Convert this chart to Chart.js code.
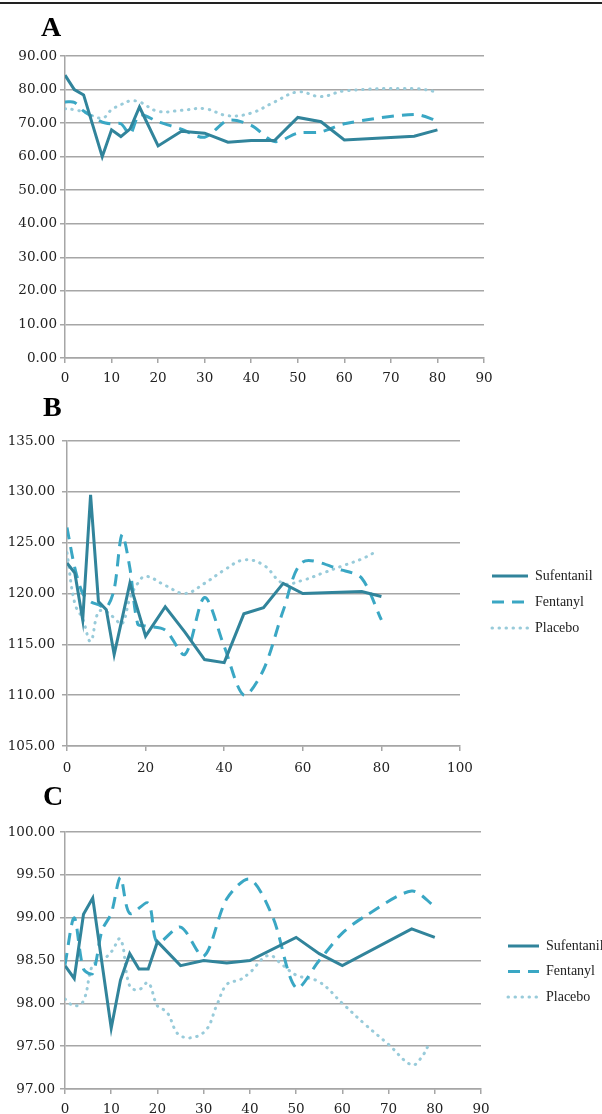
<!DOCTYPE html>
<html>
<head>
<meta charset="utf-8">
<script src="https://cdn.jsdelivr.net/npm/chart.js@4.4.1/dist/chart.umd.min.js"></script>
<style>
body{margin:0;background:#fff;width:602px;height:1114px;position:relative;overflow:hidden}
.topline{position:absolute;left:0;top:2px;width:602px;height:2px;background:#222}
.panel{position:absolute;left:0}
.tag{position:absolute;font-family:"Liberation Serif",serif;font-weight:bold;font-size:28px;line-height:28px;color:#000}
</style>
</head>
<body>
<div class="topline"></div>
<canvas id="chartA" class="panel" width="602" height="395" style="top:0"></canvas>
<canvas id="chartB" class="panel" width="602" height="390" style="top:385px"></canvas>
<canvas id="chartC" class="panel" width="602" height="339" style="top:775px"></canvas>
<div class="tag" style="left:41px;top:13px">A</div>
<div class="tag" style="left:43px;top:393px">B</div>
<div class="tag" style="left:43px;top:782px">C</div>
<script>
// --- panel A ---
var timesA = [0, 2, 4, 8, 10, 12, 14, 16, 20, 25, 30, 35, 40, 45, 50, 55, 60, 75, 80];
var sufentanilA = [84.3, 80, 78.4, 60, 68, 66, 68.3, 74.8, 63.2, 67.6, 67, 64.3, 64.8, 64.8, 71.7, 70.4, 65, 66.1, 68];
var fentanylA = [76.3, 76.2, 73.6, 70.3, 69.8, 69.8, 66.8, 72.4, 70.4, 68.2, 65.8, 70.8, 69.3, 64.5, 67, 67.4, 69.8, 72.6, 70.7];
var placeboA = [74.3, 74, 73.3, 71.5, 74, 75.5, 76.6, 76.3, 73.5, 73.8, 74.3, 72.2, 73, 76.3, 79.3, 77.9, 79.6, 80.3, 79.3];

// --- panel B ---
var timesSufB = [0, 2, 4, 6, 8, 10, 12, 16, 20, 25, 30, 35, 40, 45, 50, 55, 60, 75, 80];
var sufentanilB = [123, 122, 117.4, 129.7, 119.2, 118.4, 114, 121, 115.8, 118.7, 116.2, 113.5, 113.2, 118, 118.6, 121, 120, 120.2, 119.7];
var timesFenB = [0, 2, 4, 6, 8, 10, 12, 14, 16, 18, 20, 25, 30, 35, 40, 45, 50, 55, 60, 70, 75, 80];
var fentanylB = [126.5, 122.5, 120, 119.2, 118.9, 118.6, 120.4, 125.8, 122.5, 117, 116.8, 116.4, 114, 119.6, 114.8, 110, 112.5, 118.3, 123.1, 122.3, 121.5, 117.4];
var timesPlaB = [0, 2, 4, 6, 8, 10, 12, 14, 16, 18, 20, 25, 30, 35, 40, 45, 50, 55, 60, 65, 70, 75, 79];
var placeboB = [124, 119, 117.5, 115.3, 118.2, 118.2, 117.6, 117, 119.5, 121, 121.7, 120.8, 120, 121, 122.3, 123.3, 122.8, 121, 121.3, 122, 122.7, 123.4, 124.2];

// --- panel C ---
var timesSufC = [0, 2, 4, 6, 10, 12, 14, 16, 18, 20, 25, 30, 35, 40, 50, 55, 60, 75, 80];
var sufentanilC = [98.44, 98.29, 99.04, 99.23, 97.71, 98.27, 98.58, 98.4, 98.4, 98.72, 98.44, 98.5, 98.47, 98.5, 98.77, 98.58, 98.44, 98.87, 98.77];
var timesFenC = [0, 2, 4, 6, 8, 10, 12, 14, 18, 20, 25, 30, 35, 40, 45, 50, 55, 60, 65, 75, 80];
var fentanylC = [98.45, 99.0, 98.4, 98.35, 98.85, 99.05, 99.47, 99.05, 99.17, 98.71, 98.89, 98.55, 99.22, 99.45, 99.0, 98.18, 98.5, 98.82, 99.02, 99.31, 99.13];
var timesPlaC = [0, 2, 4, 6, 8, 10, 12, 14, 16, 18, 20, 22, 25, 30, 33, 35, 38, 40, 44, 47, 50, 55, 60, 65, 70, 75, 77, 79];
var placeboC = [98.05, 97.97, 98.03, 98.45, 98.5, 98.6, 98.75, 98.2, 98.16, 98.24, 97.97, 97.9, 97.62, 97.66, 98.0, 98.22, 98.28, 98.36, 98.56, 98.45, 98.33, 98.25, 98.0, 97.75, 97.52, 97.28, 97.36, 97.55];

var seriesNames = ['Sufentanil', 'Fentanyl', 'Placebo'];

function pts(xs, ys) {
    return xs.map(function (x, i) { return {x: x, y: ys[i]}; });
}

// styles for the three groups
function sufStyle(data) {
    return {label: seriesNames[0], data: data, borderColor: '#31849b', backgroundColor: '#31849b',
        borderWidth: 3, tension: 0, pointRadius: 0};
}
function fenStyle(data) {
    return {label: seriesNames[1], data: data, borderColor: '#3aa7c4', backgroundColor: '#3aa7c4',
        borderWidth: 3, borderDash: [12, 8], tension: 0.3, pointRadius: 0};
}
function plaStyle(data) {
    return {label: seriesNames[2], data: data, borderColor: '#98cbda', backgroundColor: '#98cbda',
        borderWidth: 3, borderDash: [0.5, 6.5], borderCapStyle: 'round', tension: 0.4, pointRadius: 0};
}

// legend samples: take the line style of each dataset
function legendItems(chart) {
    var items = Chart.defaults.plugins.legend.labels.generateLabels(chart);
    return items.map(function (it) {
        var ds = chart.data.datasets[it.datasetIndex];
        it.lineDash = ds.borderDash || [];
        it.lineCap = ds.borderCapStyle || 'butt';
        it.lineWidth = ds.borderWidth;
        it.strokeStyle = ds.borderColor;
        return it;
    });
}

// fixed legend width + fixed legend spot (legend sits away from the plot)
var legendPin = {
    id: 'legendPin',
    beforeLayout: function (chart, args, opts) {
        var lg = chart.legend;
        if (!lg || opts.x == null || lg._pinned) return;
        var fit = lg.fit;
        lg.fit = function () { fit.call(this); this.width = opts.w; };
        lg._pinned = true;
    },
    afterLayout: function (chart, args, opts) {
        var lg = chart.legend;
        if (!lg || opts.x == null) return;
        lg.left = opts.x;
        lg.right = opts.x + opts.w;
        lg.width = opts.w;
        lg.top = opts.y;
    }
};

var tickFont = {family: 'DejaVu Serif', size: 13.5};
var gridGray = '#a6a6a6';

function makeChart(id, o) {
    return new Chart(document.getElementById(id), {
        type: 'line',
        data: {datasets: o.datasets},
        plugins: [legendPin],
        options: {
            responsive: false,
            animation: false,
            layout: {padding: o.padding},
            plugins: {
                tooltip: {enabled: false},
                legend: o.legend ? {
                    display: true,
                    position: 'right',
                    align: 'start',
                    labels: {
                        usePointStyle: true,
                        pointStyle: 'line',
                        pointStyleWidth: o.legend.box,
                        padding: o.legend.padding,
                        color: '#222',
                        font: {family: 'Liberation Serif', size: 14},
                        generateLabels: legendItems
                    }
                } : {display: false},
                legendPin: o.legend ? {x: o.legend.x, y: o.legend.y, w: o.legend.w} : {}
            },
            scales: {
                x: {
                    type: 'linear',
                    min: o.xMin, max: o.xMax,
                    afterFit: function (s) { s.height = o.xHeight; },
                    ticks: {stepSize: o.xStep, padding: o.xPad, color: '#222', font: tickFont,
                        maxRotation: 0, callback: function (v) { return v; }},
                    grid: {drawOnChartArea: false, drawTicks: true, tickLength: 5, color: gridGray, lineWidth: 1.5},
                    border: {color: gridGray, width: 1.5}
                },
                y: {
                    min: o.yMin, max: o.yMax,
                    afterFit: function (s) { s.width = o.yWidth; },
                    ticks: {stepSize: o.yStep, padding: o.yPad, color: '#222', font: tickFont,
                        callback: function (v) { return Number(v).toFixed(2); }},
                    grid: {color: gridGray, lineWidth: 1.5, tickLength: 5},
                    border: {color: gridGray, width: 1.5}
                }
            }
        }
    });
}

makeChart('chartA', {
    datasets: [sufStyle(pts(timesA, sufentanilA)), fenStyle(pts(timesA, fentanylA)), plaStyle(pts(timesA, placeboA))],
    xMin: 0, xMax: 90, xStep: 10, yMin: 0, yMax: 90, yStep: 10,
    yWidth: 65, yPad: 3, xHeight: 30, xPad: 7,
    padding: {left: 0, right: 118, top: 56, bottom: 7},
    legend: null
});

makeChart('chartB', {
    datasets: [sufStyle(pts(timesSufB, sufentanilB)), fenStyle(pts(timesFenB, fentanylB)), plaStyle(pts(timesPlaB, placeboB))],
    xMin: 0, xMax: 100, xStep: 20, yMin: 105, yMax: 135, yStep: 5,
    yWidth: 67, yPad: 7, xHeight: 28, xPad: 9,
    padding: {left: 0, right: 20, top: 56, bottom: 1},
    legend: {x: 480, y: 172, w: 122, padding: 12, box: 36}
});

makeChart('chartC', {
    datasets: [sufStyle(pts(timesSufC, sufentanilC)), fenStyle(pts(timesFenC, fentanylC)), plaStyle(pts(timesPlaC, placeboC))],
    xMin: 0, xMax: 90, xStep: 10, yMin: 97, yMax: 100, yStep: 0.5,
    yWidth: 65, yPad: 5, xHeight: 24, xPad: 7,
    padding: {left: 0, right: 15, top: 57, bottom: 1},
    legend: {x: 496.5, y: 152.5, w: 106, padding: 11.5, box: 31}
});
</script>
</body>
</html>
